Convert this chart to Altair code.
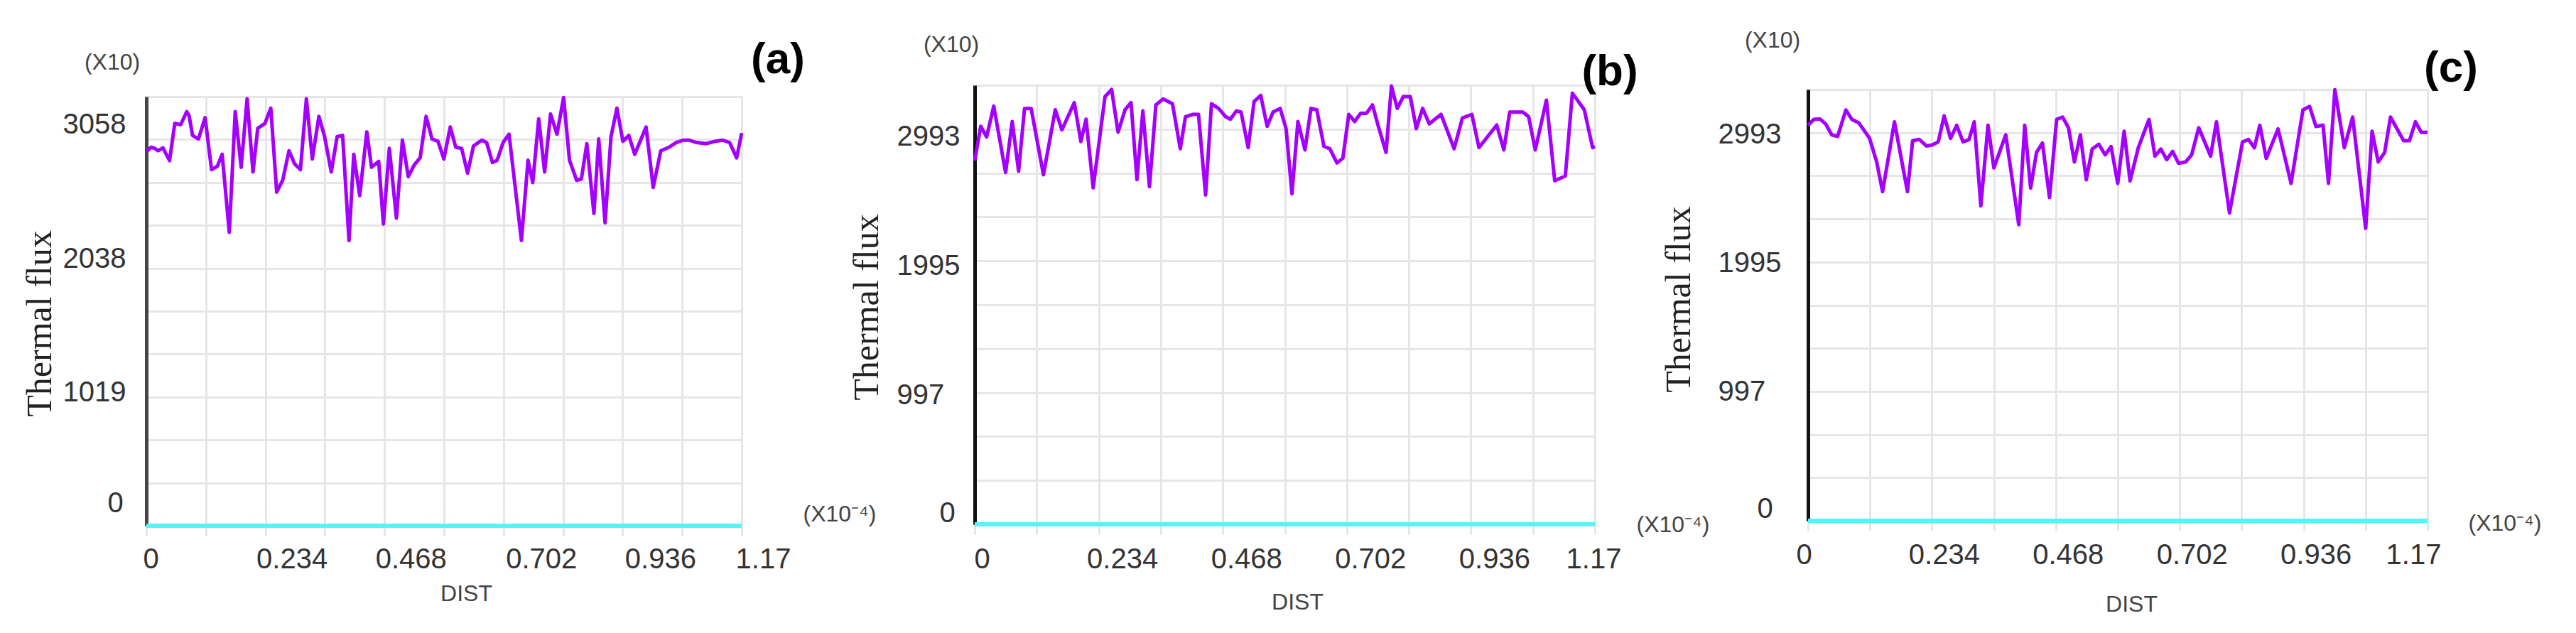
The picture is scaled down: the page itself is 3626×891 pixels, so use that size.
import altair as alt
import pandas as pd

# ---------------- data ----------------
# panel (a)
xa = [0, 0.0093, 0.0163, 0.0232, 0.0326, 0.0456, 0.0559, 0.0675, 0.0792, 0.0838, 0.0908, 0.1025, 0.1155, 0.1281,
      0.1397, 0.1490, 0.1630, 0.1747, 0.1863, 0.1980, 0.2096, 0.2189, 0.2329, 0.2446, 0.2562, 0.2679, 0.2804, 0.2912,
      0.3028, 0.3145, 0.3261, 0.3391, 0.3503, 0.3634, 0.3750, 0.3857, 0.3983, 0.4076, 0.4193, 0.4333, 0.4426, 0.4566,
      0.4659, 0.4775, 0.4915, 0.5032, 0.5148, 0.5265, 0.5381, 0.5498, 0.5614, 0.5731, 0.5847, 0.5973, 0.6080, 0.6196,
      0.6313, 0.6429, 0.6592, 0.6686, 0.6802, 0.6895, 0.7012, 0.7128, 0.7371, 0.7501, 0.7594, 0.7711, 0.7827, 0.7944,
      0.8070, 0.8200, 0.8316, 0.8456, 0.8549, 0.8657, 0.8796, 0.8890, 0.9015, 0.9132, 0.9248, 0.9365, 0.9481, 0.9598,
      0.9821, 0.9961, 1.0110, 1.0273, 1.0413, 1.0553, 1.0669, 1.0809, 1.0996, 1.1182, 1.1322, 1.1462, 1.1601, 1.17]
ya = [2852, 2888, 2879, 2861, 2883, 2785, 3069, 3060, 3159, 3132, 2978, 2951, 3114, 2717, 2744, 2834, 2239, 3159,
      2735, 3258, 2699, 3032, 3069, 3186, 2545, 2636, 2861, 2762, 2717, 3258, 2798, 3123, 2969, 2699, 2969, 2978,
      2176, 2834, 2518, 3005, 2735, 2780, 2302, 2879, 2347, 2942, 2663, 2753, 2807, 3123, 2951, 2933, 2798, 3042,
      2888, 2879, 2690, 2897, 2942, 2924, 2771, 2789, 2924, 2987, 2176, 2789, 2618, 3105, 2699, 3141, 2987, 3267,
      2789, 2636, 2645, 2915, 2383, 2951, 2311, 2969, 3186, 2933, 2978, 2834, 3042, 2581, 2861, 2888, 2924, 2942,
      2942, 2924, 2915, 2933, 2942, 2924, 2807, 2996]

# panel (b)
xb = [0, 0.0114, 0.0225, 0.0359, 0.0583, 0.0708, 0.0828, 0.0940, 0.1065, 0.1297, 0.1520, 0.1645, 0.1878, 0.2003,
      0.2101, 0.2235, 0.2458, 0.2583, 0.2704, 0.2837, 0.2949, 0.3061, 0.3172, 0.3297, 0.3418, 0.3552, 0.3731, 0.3878,
      0.3976, 0.4110, 0.4222, 0.4356, 0.4467, 0.4601, 0.4735, 0.4824, 0.4936, 0.5025, 0.5159, 0.5271, 0.5396, 0.5517,
      0.5628, 0.5762, 0.5874, 0.5985, 0.6097, 0.6231, 0.6343, 0.6454, 0.6588, 0.6700, 0.6834, 0.6945, 0.7057, 0.7169,
      0.7280, 0.7392, 0.7504, 0.7615, 0.7760, 0.7861, 0.7972, 0.8084, 0.8218, 0.8330, 0.8450, 0.8575, 0.8798, 0.9044,
      0.9200, 0.9379, 0.9513, 0.9848, 0.9982, 1.0093, 1.0339, 1.0450, 1.0575, 1.0785, 1.0942, 1.1142, 1.1275, 1.1500,
      1.1656, 1.17]
yb = [2808, 3073, 2991, 3229, 2717, 3110, 2726, 3211, 3211, 2699, 3201, 3046, 3256, 2955, 3128, 2598, 3302, 3357,
      3028, 3201, 3256, 2662, 3192, 2607, 3238, 3284, 3247, 2900, 3147, 3165, 3165, 2543, 3247, 3211, 3147, 3128,
      3192, 3183, 2909, 3265, 3311, 3073, 3183, 3211, 3055, 2552, 3110, 2891, 3211, 3201, 2918, 2900, 2790, 2827,
      3165, 3110, 3174, 3174, 3238, 3073, 2872, 3384, 3211, 3302, 3302, 3055, 3211, 3092, 3165, 2900, 3137, 3165,
      2909, 3083, 2891, 3183, 3183, 3147, 2891, 3275, 2653, 2689, 3329, 3201, 2909, 2918]

# panel (c)
xc = [0, 0.0111, 0.0223, 0.0335, 0.0447, 0.0559, 0.0715, 0.0827, 0.0961, 0.1162, 0.1297, 0.1408, 0.1632, 0.1878,
      0.1976, 0.2102, 0.2236, 0.2348, 0.2459, 0.2571, 0.2692, 0.2808, 0.2929, 0.3041, 0.3139, 0.3264, 0.3399, 0.3510,
      0.3734, 0.3980, 0.4092, 0.4204, 0.4315, 0.4427, 0.4561, 0.4696, 0.4807, 0.4919, 0.5031, 0.5143, 0.5255, 0.5366,
      0.5492, 0.5612, 0.5724, 0.5849, 0.5970, 0.6082, 0.6238, 0.6440, 0.6552, 0.6663, 0.6775, 0.6887, 0.6999, 0.7133,
      0.7245, 0.7379, 0.7603, 0.7714, 0.7960, 0.8206, 0.8318, 0.8430, 0.8533, 0.8654, 0.8877, 0.9123, 0.9347, 0.9472,
      0.9593, 0.9727, 0.9830, 0.9950, 1.0129, 1.0286, 1.0532, 1.0653, 1.0769, 1.0890, 1.1001, 1.1248, 1.1359, 1.1471,
      1.1583, 1.17]
yc = [3063, 3109, 3112, 3072, 2989, 2977, 3182, 3109, 3081, 2962, 2779, 2549, 3090, 2549, 2944, 2953, 2903, 2911,
      2934, 3136, 2962, 3063, 2934, 2953, 3090, 2439, 3063, 2733, 2989, 2293, 3063, 2577, 2852, 2925, 2503, 3109,
      3127, 3044, 2779, 2989, 2641, 2879, 2916, 2834, 2898, 2613, 3017, 2632, 2889, 3109, 2824, 2879, 2797, 2861,
      2769, 2779, 2834, 3044, 2824, 3090, 2384, 2934, 2953, 2889, 3063, 2806, 3035, 2613, 3182, 3209, 3054, 3063,
      2613, 3338, 2889, 3127, 2265, 3017, 2779, 2852, 3127, 2944, 2944, 3090, 3008, 3008]

# second (zero) series, drawn in cyan
zero_x = [0, 1.17]
zero_y = [0, 0]

# tick labels
x_ticks = [0, 0.234, 0.468, 0.702, 0.936, 1.17]
y_ticks_a = [0, 1019, 2038, 3058]
y_ticks_bc = [0, 997, 1995, 2993]
x_max = 1.17
y_max = {"a": 3274, "b": 3390, "c": 3340}

# ---------------- style ----------------
PURPLE = "#A300FF"
CYAN = "#55F5F7"
GRID = "#E6E6E6"
LBL = "#333333"
SANS = "Liberation Sans"
SERIF = "Liberation Serif"
TOP_EXT = 100  # every panel reserves this much room above its plot area


def note(text, x, y, size, color, weight="normal", align="center", baseline="middle", opacity=1.0):
    return alt.Chart(alt.Data(values=[{}])).mark_text(
        text=text, font=SANS, fontSize=size, fontWeight=weight, color=color,
        align=align, baseline=baseline, opacity=opacity
    ).encode(x=alt.value(x), y=alt.value(y))


def spacer(h):
    return alt.Chart(alt.Data(values=[{}])).mark_point(opacity=0).encode(
        x=alt.value(0), y=alt.value(0)
    ).properties(width=1, height=h)


def panel(xs, ys, key, yticks, g):
    ymax = y_max[key]
    x_grid = [round(x_max * i / 10, 4) for i in range(11)]
    y_grid = [ymax * i / 10 for i in range(11)]
    xscale = alt.Scale(domain=[0, x_max], nice=False, zero=False)
    yscale = alt.Scale(domain=[0, ymax], nice=False)

    df = pd.DataFrame({"x": xs, "y": ys})
    dz = pd.DataFrame({"x": zero_x, "y": zero_y})

    grid_x_axis = alt.Axis(values=x_grid, labels=False, grid=True, gridColor=GRID, gridWidth=3,
                           ticks=True, tickColor=GRID, tickWidth=3, tickSize=14, domain=False,
                           title=None, orient="bottom")
    grid_y_axis = alt.Axis(values=y_grid, labels=False, grid=True, gridColor=GRID, gridWidth=3,
                           ticks=False, domain=True, domainColor=g["dom"], domainWidth=5,
                           title=None, orient="left")

    lab_x_axis = alt.Axis(
        values=x_ticks, format=".3~f", grid=False, ticks=False, domain=False, orient="bottom",
        labelAlign="center", labelBaseline="middle", labelPadding=g["xpad"], labelFlush=False,
        labelOverlap=False, labelFont=SANS, labelFontSize=40, labelColor=LBL,
        labelOffset={"condition": [
            {"test": "datum.value < 0.1", "value": g["xo"][0]},
            {"test": "datum.value > 1.1", "value": g["xo"][3]},
            {"test": "datum.value > 0.6", "value": g["xo"][2]},
        ], "value": g["xo"][1]},
        title="DIST", titleFont=SANS, titleFontSize=32, titleFontWeight="normal", titleColor="#444444",
        titleX=g["dist"][0], titleY=g["dist"][1], titleAlign="center", titleBaseline="middle",
    )
    lab_y_axis = alt.Axis(
        values=yticks, format="d", grid=False, ticks=False, domain=False, orient="left",
        labelAlign="left", labelBaseline="middle", labelOverlap=False,
        labelPadding={"condition": {"test": "datum.value == 0", "value": g["yp0"]}, "value": g["yp"]},
        labelOffset={"condition": {"test": "datum.value == 0", "value": g["yo0"]}, "value": 0},
        labelFont=SANS, labelFontSize=40, labelColor=LBL,
        title="Thermal flux", titleFont=SERIF, titleFontSize=50, titleFontWeight="normal",
        titleColor="#222222", titleAngle=270, titleX=g["tf"][0], titleY=g["tf"][1],
        titleAlign="center", titleBaseline="middle",
    )

    zero_line = alt.Chart(dz).mark_line(color=CYAN, strokeWidth=6).encode(
        x=alt.X("x:Q", scale=xscale, axis=lab_x_axis),
        y=alt.Y("y:Q", scale=yscale, axis=lab_y_axis),
    )
    flux_line = alt.Chart(df).mark_line(color=PURPLE, strokeWidth=5, strokeJoin="round").encode(
        x=alt.X("x:Q", scale=xscale, axis=grid_x_axis),
        y=alt.Y("y:Q", scale=yscale, axis=grid_y_axis),
    )

    notes = [
        note("(X10)", g["x10"][0], g["x10"][1], 32, "#444444"),
        note("(X10⁻⁴)", g["x104"][0], g["x104"][1], 32, "#444444"),
        note("(" + key + ")", g["tag"][0], g["tag"][1], 62, "#000000", weight="bold"),
        # invisible layout anchors that fix where the panel's bounds start and end
        note(".", g["left"], -TOP_EXT, 2, "#ffffff", align="left", baseline="top", opacity=0),
        note(".", g["right"], -TOP_EXT, 2, "#ffffff", align="right", baseline="top", opacity=0),
    ]

    body = alt.layer(flux_line, zero_line, *notes).resolve_axis(
        x="independent", y="independent"
    ).properties(width=g["w"], height=g["h"])
    return alt.vconcat(spacer(g["drop"]), body, spacing=0)


geo_a = dict(w=838, h=604, dom="#444444", xpad=47, xo=(6, 37, 53, 30), dist=(450, 95),
             yp=118, yp0=55, yo0=-32, tf=(-150, 319), x10=(-48, -48), x104=(976, 588),
             tag=(889, -52), left=-198, right=1044, drop=25)
geo_b = dict(w=873, h=618, dom="#111111", xpad=49, xo=(10, 33, 33, -2), dist=(454, 109),
             yp=110, yp0=50, yo0=-16, tf=(-152, 312), x10=(-33, -57), x104=(983, 619),
             tag=(894, -19), left=-212, right=1043, drop=9)
geo_c = dict(w=872, h=607, dom="#111111", xpad=48, xo=(-6, 17, 17, -20), dist=(455, 117),
             yp=127, yp0=72, yo0=-17, tf=(-182, 295), x10=(-50, -69), x104=(981, 611),
             tag=(905, -30), left=-220, right=1065, drop=15)

pa = panel(xa, ya, "a", y_ticks_a, geo_a)
pb = panel(xb, yb, "b", y_ticks_bc, geo_b)
pc = panel(xc, yc, "c", y_ticks_bc, geo_c)

chart = alt.hconcat(pa, pb, pc, spacing=-90).properties(
    padding={"left": 0, "top": 0, "right": 0, "bottom": 0},
    background="white",
).configure_view(stroke=None)

chart.save("out.html", embed_options={"renderer": "svg", "actions": False})
